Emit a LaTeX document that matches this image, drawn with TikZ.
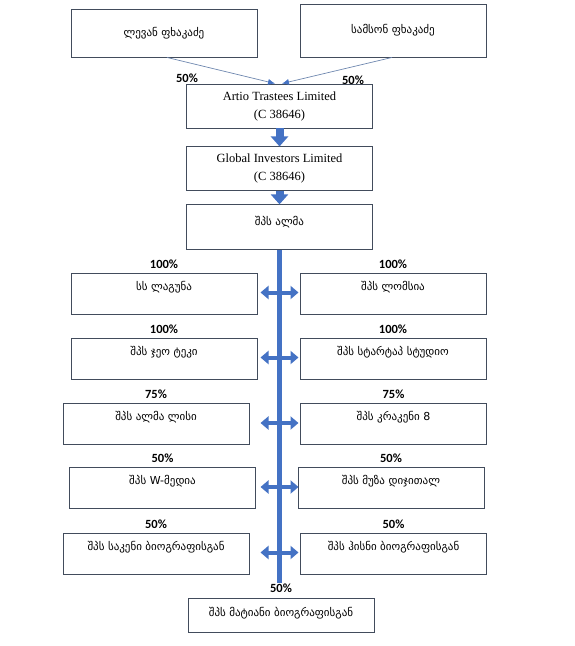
\documentclass[tikz,border=0pt]{standalone}
\usepackage{fontspec}
\setmainfont{Liberation Serif}
\newfontfamily\geofont{DejaVu Sans}
\newfontfamily\pctfont{Carlito}
\usetikzlibrary{arrows.meta, positioning, calc}
\definecolor{boxgray}{RGB}{66,76,92}
\definecolor{linkblue}{RGB}{68,114,196}
\definecolor{feedblue}{RGB}{110,135,175}

\begin{document}
\begin{tikzpicture}[x=1pt, y=-1pt, node distance=4pt,
  box/.style={rectangle, draw=boxgray, line width=0.9pt, minimum width=186pt, align=center, inner sep=0pt},
  geo/.style={box, font=\geofont\fontsize{11}{13}\selectfont},
  co/.style={box, minimum height=44pt, font=\fontsize{12.5}{18}\selectfont},
  sub/.style={geo, text height=17pt, text depth=24pt},
  pct/.style={inner sep=0pt, font=\pctfont\bfseries\fontsize{12.5}{12.5}\selectfont},
  feed/.style={draw=feedblue, line width=0.7pt, -{Latex[length=7pt, width=6pt, color=linkblue]}},
  blk/.style={draw=linkblue, line width=8pt, -{Triangle[width=17pt, length=10pt]}},
  dbl/.style={draw=linkblue, line width=4pt, {Triangle[width=13pt, length=8pt]}-{Triangle[width=13pt, length=8pt]}},
  spine/.style={draw=linkblue, line width=4.5pt}]
\useasboundingbox (0,0) rectangle (575,646);

% owners
\node[geo, minimum height=48pt] (lp) at (164,33) {ლევან ფხაკაძე};
\node[geo, minimum height=53pt] (sp) at (393,30.5) {სამსონ ფხაკაძე};
\node[pct] (pa) at (187,78) {50\%};
\node[pct] (pb) at (353,80) {50\%};

% holding chain
\node[co] (artio) at (279.5,106) {Artio Trastees Limited\\(C 38646)};
\node[co, below=18pt of artio] (global) {Global Investors Limited\\(C 38646)};
\node[geo, below=13pt of global, text height=21pt, text depth=24pt] (alma) {შპს ალმა};

\draw[feed] ([xshift=3pt]lp.south) -- ([xshift=-4.5pt]artio.north);
\draw[feed] ([xshift=-1pt]sp.south) -- ([xshift=2.5pt]artio.north);
\draw[blk] (artio) -- (global);
\draw[blk] (global) -- (alma);

% subsidiaries
\foreach \n/\x/\y/\p/\t in {
  l1/164/293.5/100/{სს ლაგუნა},
  r1/393/293.5/100/{შპს ლომსია},
  l2/164/358.5/100/{შპს ჯეო ტეკი},
  r2/393/358.5/100/{შპს სტარტაპ სტუდიო},
  l3/156/424/75/{შპს ალმა ლისი},
  r3/393.5/424/75/{შპს კრაკენი 8},
  l4/162.5/488/50/{შპს W-მედია},
  r4/391/488/50/{შპს მუზა დიჯითალ},
  l5/156/553.5/50/{შპს საკენი ბიოგრაფისგან},
  r5/393.5/553.5/50/{შპს ჰისნი ბიოგრაფისგან}}
{
  \node[sub] (\n) at (\x,\y) {\t};
  \node[pct, above=of \n] (p\n) {\p\%};
}

\node[geo, text height=18pt, text depth=16pt] (bot) at (281,615) {შპს მატიანი ბიოგრაფისგან};
\node[pct, above=5pt of bot] (pm) {50\%};

\draw[spine] (alma.south) -- (alma.south |- pm.north);
\foreach \i in {1,...,5}
  \draw[dbl] ($(alma.south |- l\i)+(-19,-1)$) -- ($(alma.south |- l\i)+(19,-1)$);
\end{tikzpicture}
\end{document}
